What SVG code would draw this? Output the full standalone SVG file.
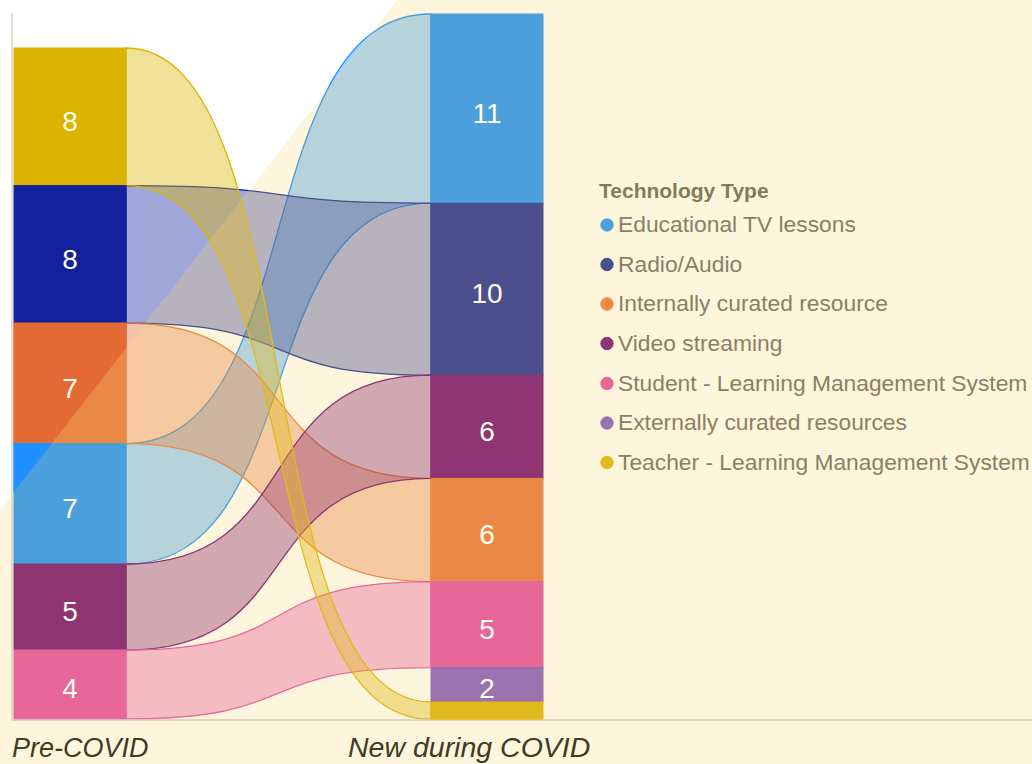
<svg xmlns="http://www.w3.org/2000/svg" width="1032" height="764" viewBox="0 0 1032 764">
<style>
.lk{stroke-width:1.3;fill-opacity:0.4}
.tv{fill:#4BA0DB;stroke:#4BA0DB}
.ra{fill:#4B4F8E;stroke:#4B4F8E}
.ic{fill:#EA8945;stroke:#EA8945}
.vs{fill:#8E3473;stroke:#8E3473}
.sl{fill:#E76798;stroke:#E76798}
.ec{fill:#9A72B0;stroke:#9A72B0}
.tl{fill:#E0B91C;stroke:#E0B91C}
.tv2{fill:#1E90FF;stroke:#1E90FF}
.ra2{fill:#12229F;stroke:#12229F}
.ic2{fill:#E46A35;stroke:#E46A35}
.tl2{fill:#DAB400;stroke:#DAB400}
.num{font-family:"Liberation Sans",Arial,sans-serif;font-size:28px;fill:#FFFBEE;text-anchor:middle}
.leg{font-family:"Liberation Sans",Arial,sans-serif;font-size:22.8px;fill:#8B8062}
.legt{font-family:"Liberation Sans",Arial,sans-serif;font-size:21px;font-weight:bold;fill:#857A5C}
.ax{font-family:"Liberation Sans",Arial,sans-serif;font-size:27px;font-style:italic;fill:#3F3B25}
</style>
<defs>
<clipPath id="tri"><polygon points="0,0 397,0 0,510"/></clipPath>
</defs>
<g id="background">
<rect x="0" y="0" width="1032" height="764" fill="#FDF5DC"/>
</g>
<g id="connectors">
<path class="lk tv" d="M126,443.6 C309,443.6 248,14 431,14 L431,203.2 C248,203.2 309,564 126,564 Z"/>
<path class="lk ra" d="M126,185.6 C309,185.6 248,203.2 431,203.2 L431,375.2 C248,375.2 309,323.2 126,323.2 Z"/>
<path class="lk ic" d="M126,323.2 C309,323.2 248,478.4 431,478.4 L431,581.6 C248,581.6 309,443.6 126,443.6 Z"/>
<path class="lk vs" d="M126,564 C309,564 248,375.2 431,375.2 L431,478.4 C248,478.4 309,650 126,650 Z"/>
<path class="lk sl" d="M126,650 C309,650 248,581.6 431,581.6 L431,667.6 C248,667.6 309,718.8 126,718.8 Z"/>
<path class="lk tl" d="M126,48 C309,48 248,702 431,702 L431,719.2 C248,719.2 309,185.6 126,185.6 Z"/>
</g>
<g id="highlight" clip-path="url(#tri)">
<rect x="0" y="0" width="400" height="520" fill="#FFFFFF"/>
<path class="lk tv2" d="M126,443.6 C309,443.6 248,14 431,14 L431,203.2 C248,203.2 309,564 126,564 Z"/>
<path class="lk ra2" d="M126,185.6 C309,185.6 248,203.2 431,203.2 L431,375.2 C248,375.2 309,323.2 126,323.2 Z"/>
<path class="lk ic2" d="M126,323.2 C309,323.2 248,478.4 431,478.4 L431,581.6 C248,581.6 309,443.6 126,443.6 Z"/>
<path class="lk tl2" d="M126,48 C309,48 248,702 431,702 L431,719.2 C248,719.2 309,185.6 126,185.6 Z"/>
</g>
<g id="axes" stroke="#D3CBB8" stroke-width="1.3" fill="none">
<line x1="12" y1="13" x2="12" y2="720"/>
<line x1="12" y1="720" x2="1032" y2="720"/>
</g>
<g id="pre-teacher-lms">
<rect class="tl2" x="14" y="48" width="112" height="137.6" stroke="none"/>
<text class="num" x="70" y="131">8</text>
</g>
<g id="pre-radio-audio">
<rect class="ra2" x="14" y="185.6" width="112" height="137.6" stroke="none"/>
<text class="num" x="70" y="268.5">8</text>
</g>
<g id="pre-internally-curated">
<rect class="ic" x="14" y="323.2" width="112" height="120.4" stroke="none"/>
<rect class="ic2" x="14" y="323.2" width="112" height="120.4" stroke="none" clip-path="url(#tri)"/>
<text class="num" x="70" y="397.5">7</text>
</g>
<g id="pre-educational-tv">
<rect class="tv" x="14" y="443.6" width="112" height="120.4" stroke="none"/>
<rect class="tv2" x="14" y="443.6" width="112" height="120.4" stroke="none" clip-path="url(#tri)"/>
<text class="num" x="70" y="517.5">7</text>
</g>
<g id="pre-video-streaming">
<rect class="vs" x="14" y="564" width="112" height="86" stroke="none"/>
<text class="num" x="70" y="621">5</text>
</g>
<g id="pre-student-lms">
<rect class="sl" x="14" y="650" width="112" height="68.8" stroke="none"/>
<text class="num" x="70" y="698">4</text>
</g>
<g id="new-educational-tv">
<rect class="tv" x="431" y="14" width="112" height="189.2" stroke="none"/>
<text class="num" x="487" y="122.5">11</text>
</g>
<g id="new-radio-audio">
<rect class="ra" x="431" y="203.2" width="112" height="172" stroke="none"/>
<text class="num" x="487" y="303">10</text>
</g>
<g id="new-video-streaming">
<rect class="vs" x="431" y="375.2" width="112" height="103.2" stroke="none"/>
<text class="num" x="487" y="440.5">6</text>
</g>
<g id="new-internally-curated">
<rect class="ic" x="431" y="478.4" width="112" height="103.2" stroke="none"/>
<text class="num" x="487" y="543.5">6</text>
</g>
<g id="new-student-lms">
<rect class="sl" x="431" y="581.6" width="112" height="86" stroke="none"/>
<text class="num" x="487" y="639">5</text>
</g>
<g id="new-externally-curated">
<rect class="ec" x="431" y="667.6" width="112" height="34.4" stroke="none"/>
<text class="num" x="487" y="698">2</text>
</g>
<g id="new-teacher-lms">
<rect class="tl" x="431" y="702" width="112" height="17.2" stroke="none"/>
</g>
<g id="axis-titles">
<text class="ax" x="12" y="757">Pre-COVID</text>
<text class="ax" x="348" y="757" style="font-size:28.5px">New during COVID</text>
</g>
<g id="legend">
<text class="legt" x="599" y="198">Technology Type</text>
<circle class="tv" cx="607" cy="225" r="6.2" stroke="none"/>
<text class="leg" x="618" y="232">Educational TV lessons</text>
<circle class="ra" cx="607" cy="264.5" r="6.2" stroke="none"/>
<text class="leg" x="618" y="271.5">Radio/Audio</text>
<circle class="ic" cx="607" cy="304" r="6.2" stroke="none"/>
<text class="leg" x="618" y="311">Internally curated resource</text>
<circle class="vs" cx="607" cy="343.5" r="6.2" stroke="none"/>
<text class="leg" x="618" y="350.5">Video streaming</text>
<circle class="sl" cx="607" cy="383.5" r="6.2" stroke="none"/>
<text class="leg" x="618" y="390.5">Student - Learning Management System</text>
<circle class="ec" cx="607" cy="423" r="6.2" stroke="none"/>
<text class="leg" x="618" y="430">Externally curated resources</text>
<circle class="tl" cx="607" cy="462.5" r="6.2" stroke="none"/>
<text class="leg" x="618" y="469.5">Teacher - Learning Management System</text>
</g>
</svg>
